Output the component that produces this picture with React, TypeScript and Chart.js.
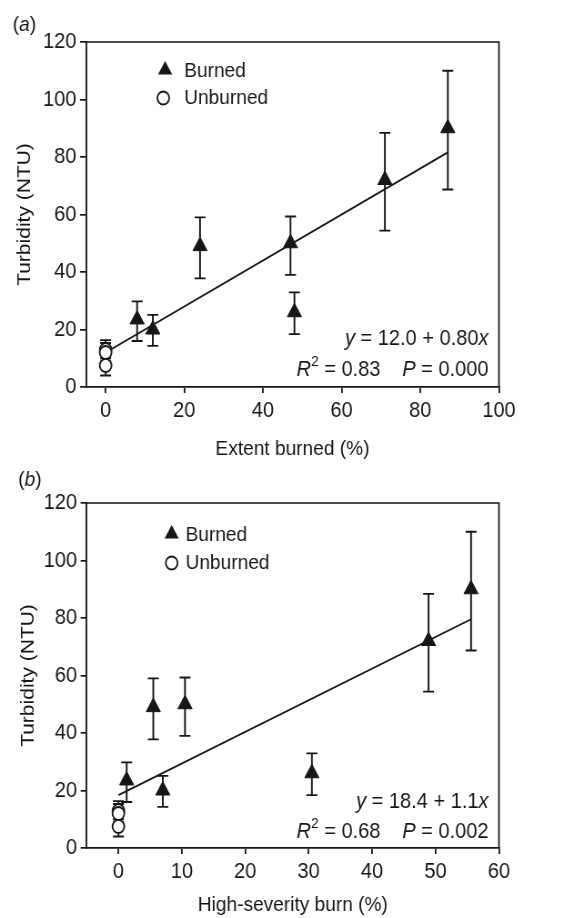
import React, { useEffect, useRef } from 'react';
import { Chart, registerables } from 'chart.js';

Chart.register(...registerables);

// ---- data ----
const burnedTurbidity = [23.5, 20, 49, 50, 26, 72, 90];
const burnedLow = [16, 14.3, 37.8, 39, 18.4, 54.4, 68.7];
const burnedHigh = [29.8, 25.1, 59, 59.3, 32.9, 88.4, 110];
const extentBurned = [8, 12, 24, 47, 48, 71, 87];
const highSeverity = [1.3, 7, 5.5, 10.5, 30.5, 48.9, 55.6];

const unburnedX = [0, 0, 0];
const unburnedTurbidity = [13, 12, 7.5];
const unburnedLow = [10, 9, 4];
const unburnedHigh = [16.3, 15.3, 11];

const fitA = { intercept: 12.0, slope: 0.8, from: 0, to: 87 };
const fitB = { intercept: 18.4, slope: 1.1, from: 0, to: 55.6 };

const yTicks = [0, 20, 40, 60, 80, 100, 120];
const xTicksA = [0, 20, 40, 60, 80, 100];
const xTicksB = [0, 10, 20, 30, 40, 50, 60];

const INK = '#161616';
const FONT = "'Liberation Sans', Arial, Helvetica, sans-serif";
const FS = 21;
const FS_TICK = 22;
const FS_ANN = 22;

// the figure is drawn on a wider logical canvas and shown narrower (horizontally condensed type)
const VIEW_W = 584;
const LOGICAL_W = 642;

type Seg = { t: string; it?: boolean; sup?: boolean; gap?: number };

function drawSegs(ctx: CanvasRenderingContext2D, segs: Seg[], x: number, y: number, align: 'left' | 'right', fs: number) {
  const fontFor = (s: Seg) => `${s.it ? 'italic ' : ''}${s.sup ? Math.round(fs * 0.7) : fs}px ${FONT}`;
  let total = 0;
  for (const s of segs) {
    if (s.gap) { total += s.gap; continue; }
    ctx.font = fontFor(s);
    total += ctx.measureText(s.t).width;
  }
  let cx = align === 'right' ? x - total : x;
  ctx.textAlign = 'left';
  ctx.textBaseline = 'middle';
  for (const s of segs) {
    if (s.gap) { cx += s.gap; continue; }
    ctx.font = fontFor(s);
    ctx.fillText(s.t, cx, s.sup ? y - fs * 0.36 : y);
    cx += ctx.measureText(s.t).width;
  }
}

const decorPlugin = {
  id: 'decor',
  beforeDatasetsDraw(chart: any, _args: any, opts: any) {
    const { ctx, scales } = chart;
    const xs = scales.x, ys = scales.y;
    ctx.save();
    ctx.strokeStyle = INK;
    ctx.lineWidth = 1.9;
    const cap = 6;
    const bars = [
      { x: opts.burnedX, lo: burnedLow, hi: burnedHigh },
      { x: unburnedX, lo: unburnedLow, hi: unburnedHigh },
    ];
    for (const b of bars) {
      for (let i = 0; i < b.x.length; i++) {
        const px = xs.getPixelForValue(b.x[i]);
        const pl = ys.getPixelForValue(b.lo[i]);
        const ph = ys.getPixelForValue(b.hi[i]);
        ctx.beginPath();
        ctx.moveTo(px, pl); ctx.lineTo(px, ph);
        ctx.moveTo(px - cap, pl); ctx.lineTo(px + cap, pl);
        ctx.moveTo(px - cap, ph); ctx.lineTo(px + cap, ph);
        ctx.stroke();
      }
    }
    ctx.restore();
  },
  afterDraw(chart: any, _args: any, opts: any) {
    const { ctx, chartArea: a } = chart;
    ctx.save();
    // frame top & right
    ctx.strokeStyle = INK;
    ctx.lineWidth = 1.7;
    ctx.beginPath();
    ctx.moveTo(a.left, a.top);
    ctx.lineTo(a.right, a.top);
    ctx.lineTo(a.right, a.bottom);
    ctx.stroke();

    ctx.fillStyle = INK;
    // panel label
    drawSegs(ctx, [{ t: '(' }, { t: opts.panel, it: true }, { t: ')' }], opts.panelPos[0], opts.panelPos[1], 'left', FS);

    // legend
    const lg = opts.legend;
    const r = 9;
    const [tx, ty] = lg.tri;
    ctx.beginPath();
    ctx.moveTo(tx, ty - r);
    ctx.lineTo(tx + r * Math.sin(2 * Math.PI / 3), ty - r * Math.cos(2 * Math.PI / 3));
    ctx.lineTo(tx + r * Math.sin(4 * Math.PI / 3), ty - r * Math.cos(4 * Math.PI / 3));
    ctx.closePath();
    ctx.fill();
    const [cx, cy] = lg.circ;
    ctx.beginPath();
    ctx.arc(cx, cy, 6.5, 0, Math.PI * 2);
    ctx.fillStyle = '#fff';
    ctx.fill();
    ctx.lineWidth = 1.8;
    ctx.stroke();
    ctx.fillStyle = INK;
    drawSegs(ctx, [{ t: 'Burned' }], lg.textX, ty + 1, 'left', FS);
    drawSegs(ctx, [{ t: 'Unburned' }], lg.textX, cy, 'left', FS);

    // equation
    const eq = opts.eq;
    drawSegs(ctx, [{ t: 'y', it: true }, { t: ` = ${eq.intercept} + ${eq.slope}` }, { t: 'x', it: true }], eq.right, eq.y1, 'right', FS_ANN);
    drawSegs(ctx, [{ t: 'R', it: true }, { t: '2', sup: true }, { t: ` = ${eq.r2}` }, { t: '', gap: 24 }, { t: 'P', it: true }, { t: ` = ${eq.p}` }], eq.right, eq.y2, 'right', FS_ANN);
    ctx.restore();
  },
};

function makeConfig(p: any): any {
  const fit = p.fit;
  return {
    type: 'scatter',
    data: {
      datasets: [
        {
          label: 'Burned',
          data: p.burnedX.map((x: number, i: number) => ({ x, y: burnedTurbidity[i] })),
          pointStyle: 'triangle',
          pointRadius: 9,
          pointHoverRadius: 9,
          backgroundColor: INK,
          borderColor: INK,
          borderWidth: 1,
          order: 1,
        },
        {
          label: 'Unburned',
          data: unburnedX.map((x, i) => ({ x, y: unburnedTurbidity[i] })),
          pointStyle: 'circle',
          pointRadius: 6.5,
          pointHoverRadius: 6.5,
          backgroundColor: '#ffffff',
          borderColor: INK,
          borderWidth: 1.8,
          order: 2,
        },
        {
          label: 'Fit',
          data: [fit.from, fit.to].map((x: number) => ({ x, y: fit.intercept + fit.slope * x })),
          showLine: true,
          pointRadius: 0,
          borderColor: INK,
          borderWidth: 1.8,
          fill: false,
          order: 3,
        },
      ],
    },
    options: {
      animation: false,
      responsive: false,
      events: [],
      layout: { padding: { left: 0, right: p.rightPad, top: p.top, bottom: 0 } },
      plugins: {
        legend: { display: false },
        tooltip: { enabled: false },
        decor: {
          burnedX: p.burnedX,
          panel: p.panel,
          panelPos: p.panelPos,
          legend: p.legend,
          eq: p.eq,
        },
      },
      scales: {
        x: {
          type: 'linear',
          min: -5,
          max: p.xMax,
          afterBuildTicks: (s: any) => { s.ticks = p.xTicks.map((v: number) => ({ value: v })); },
          afterFit: (s: any) => { s.height = p.xAxisH; },
          grid: { drawOnChartArea: false, drawTicks: true, tickLength: 6, color: INK, lineWidth: 1.8 },
          border: { display: true, color: INK, width: 1.7 },
          ticks: { color: INK, font: { family: FONT, size: FS_TICK }, padding: 5, maxRotation: 0 },
          title: {
            display: true,
            text: p.xTitle,
            color: INK,
            font: { family: FONT, size: FS, lineHeight: 1 },
            padding: { top: 0, bottom: p.xTitlePad },
          },
        },
        y: {
          type: 'linear',
          min: 0,
          max: 120,
          afterBuildTicks: (s: any) => { s.ticks = yTicks.map((v) => ({ value: v })); },
          afterFit: (s: any) => { s.width = p.yAxisW; },
          grid: { drawOnChartArea: false, drawTicks: true, tickLength: 6.6, color: INK, lineWidth: 1.7 },
          border: { display: true, color: INK, width: 1.9 },
          ticks: { color: INK, font: { family: FONT, size: FS_TICK }, padding: 4 },
          title: {
            display: true,
            text: 'Turbidity (NTU)',
            color: INK,
            font: { family: FONT, size: FS, lineHeight: 1 },
            padding: { top: p.yTitlePad, bottom: 0 },
          },
        },
      },
    },
    plugins: [decorPlugin],
  };
}

const panelA = {
  burnedX: extentBurned,
  fit: fitA,
  xMax: 100,
  xTicks: xTicksA,
  xTitle: 'Extent burned (%)',
  top: 42,
  rightPad: 93.5,
  xAxisH: 73,
  yAxisW: 94.5,
  xTitlePad: 0,
  yTitlePad: 17,
  panel: 'a',
  panelPos: [14, 25],
  legend: { tri: [181.5, 70], circ: [179.5, 98], textX: 202.5 },
  eq: { intercept: '12.0', slope: '0.80', r2: '0.83', p: '0.000', right: 537, y1: 339, y2: 370 },
};

const panelB = {
  burnedX: highSeverity,
  fit: fitB,
  xMax: 60,
  xTicks: xTicksB,
  xTitle: 'High-severity burn (%)',
  top: 43,
  rightPad: 93.5,
  xAxisH: 70,
  yAxisW: 95.3,
  xTitlePad: 2.5,
  yTitlePad: 20.5,
  panel: 'b',
  panelPos: [20, 20],
  legend: { tri: [188.7, 74], circ: [188.7, 103], textX: 204 },
  eq: { intercept: '18.4', slope: '1.1', r2: '0.68', p: '0.002', right: 537, y1: 342, y2: 372 },
};

function Panel({ cfg, top, height }: { cfg: any; top: number; height: number }) {
  const ref = useRef<HTMLCanvasElement | null>(null);
  useEffect(() => {
    if (!ref.current) return;
    const chart = new Chart(ref.current, makeConfig(cfg));
    return () => chart.destroy();
  }, [cfg]);
  return (
    <canvas
      ref={ref}
      width={LOGICAL_W}
      height={height}
      style={{ position: 'absolute', left: 0, top, width: VIEW_W, height, display: 'block' }}
    />
  );
}

export default function App() {
  return (
    <div style={{ position: 'absolute', left: 0, top: 0, width: 584, height: 918, background: '#ffffff', overflow: 'hidden' }}>
      <Panel cfg={panelA} top={0} height={460} />
      <Panel cfg={panelB} top={460} height={458} />
    </div>
  );
}
